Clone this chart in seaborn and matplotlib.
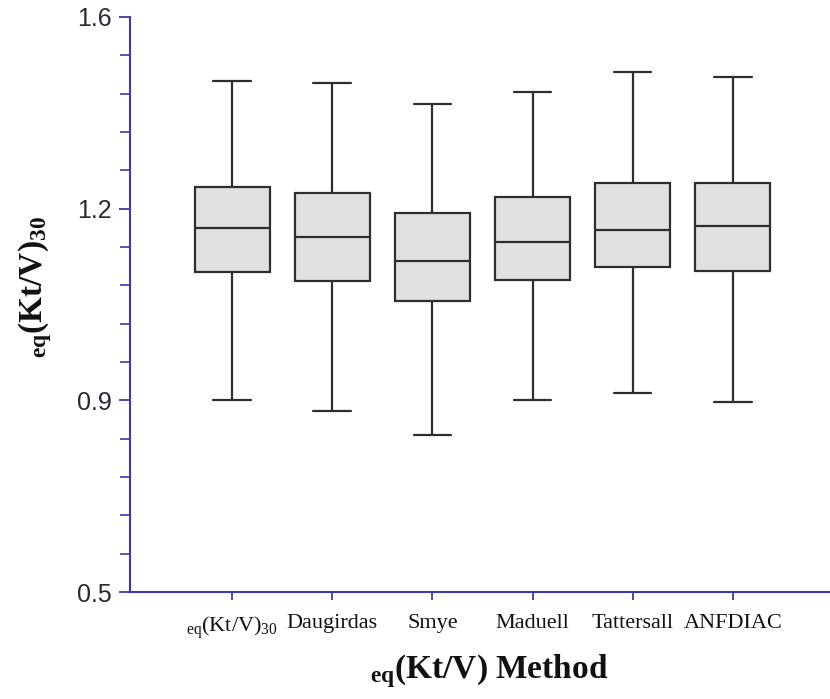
import numpy as np
import pandas as pd
import matplotlib
matplotlib.use("Agg")
import matplotlib.pyplot as plt
import seaborn as sns

# Box summary per method: lower whisker, Q1, median, Q3, upper whisker
methods = ["eq30", "Daugirdas", "Smye", "Maduell", "Tattersall", "ANFDIAC"]
tick_labels = [r"$_{\mathrm{eq}}$(Kt/V)$_{30}$", "Daugirdas", "Smye", "Maduell",
               "Tattersall", "ANFDIAC"]
whisker_low = [0.900, 0.878, 0.828, 0.900, 0.912, 0.897]
q1 = [1.101, 1.087, 1.055, 1.089, 1.109, 1.103]
median = [1.169, 1.155, 1.118, 1.148, 1.166, 1.173]
q3 = [1.246, 1.233, 1.194, 1.224, 1.253, 1.253]
whisker_high = [1.467, 1.463, 1.418, 1.444, 1.486, 1.475]

# Axis breakpoints placed at equal spacing
y_ticks = [0.5, 0.9, 1.2, 1.6]

rows = []
for m, lo, a, md, b, hi in zip(methods, whisker_low, q1, median, q3, whisker_high):
    for v in (lo, a, md, b, hi):
        rows.append({"method": m, "value": v})
df = pd.DataFrame(rows)

sns.set_theme(style="white")
plt.rcParams["mathtext.fontset"] = "custom"
plt.rcParams["mathtext.rm"] = "Liberation Serif"
plt.rcParams["mathtext.bf"] = "Liberation Serif:bold"
plt.rcParams["mathtext.default"] = "regular"

fig = plt.figure(figsize=(8.30, 6.99), dpi=100)
ax = fig.add_axes([0.1566, 0.153, 0.8434, 0.8227])

edge = "#2e2e2e"
sns.boxplot(data=df, x="method", y="value", order=methods, whis=np.inf,
            width=0.75, color="#e0e0e0", saturation=1, linewidth=1.6,
            linecolor=edge, showfliers=False, ax=ax)

pos = np.arange(len(y_ticks), dtype=float)
tk = np.array(y_ticks)
ax.set_yscale("function",
              functions=(lambda v: np.interp(v, tk, pos, left=-1, right=4),
                         lambda p: np.interp(p, pos, tk)))
ax.set_ylim(0.5, 1.6)
ax.set_xlim(-1.02, 5.97)

ax.set_yticks(y_ticks)
ax.set_yticklabels([f"{t:.1f}" for t in y_ticks])
minor = []
for a, b in zip(y_ticks[:-1], y_ticks[1:]):
    minor += list(np.linspace(a, b, 6)[1:-1])
ax.set_yticks(minor, minor=True)

ax.set_xticks(range(len(methods)))
ax.set_xticklabels(tick_labels, family="Liberation Serif", fontsize=16,
                   color="#111111")

axis_col = "#3a3aaa"
for s in ("top", "right"):
    ax.spines[s].set_visible(False)
for s in ("left", "bottom"):
    ax.spines[s].set_color(axis_col)
    ax.spines[s].set_linewidth(1.5)

ax.tick_params(axis="y", which="major", direction="out", length=8, width=1.3,
               color=axis_col, labelsize=18, labelcolor="#2a2a35", pad=5,
               left=True)
ax.tick_params(axis="y", which="minor", direction="out", length=7, width=1.2,
               color=axis_col, left=True)
ax.tick_params(axis="x", which="major", direction="out", length=6, width=1.3,
               color=axis_col, bottom=True, pad=10)
for lab in ax.get_yticklabels():
    lab.set_family(["Liberation Sans", "DejaVu Sans"])

ax.set_xlabel(r"$_{\mathbf{eq}}$(Kt/V) Method", family="Liberation Serif",
              fontsize=24, fontweight="bold", color="#111111")
ax.set_ylabel(r"$_{\mathbf{eq}}$(Kt/V)$_{\mathbf{30}}$", family="Liberation Serif",
              fontsize=24, fontweight="bold", color="#111111")
ax.xaxis.set_label_coords(0.513, -0.105)
ax.yaxis.set_label_coords(-0.109, 0.53)

fig.savefig("out.png", dpi=100)
